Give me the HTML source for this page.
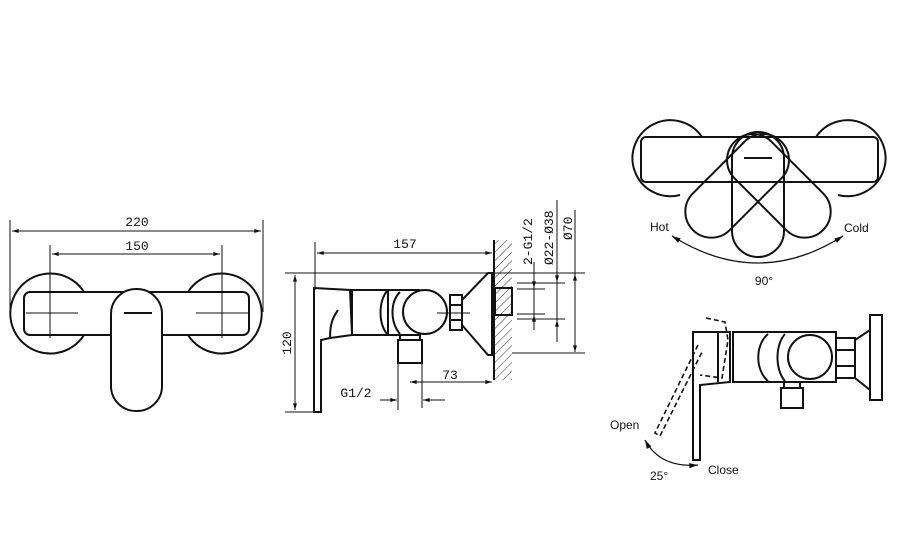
<!DOCTYPE html>
<html><head><meta charset="utf-8"><style>
html,body{margin:0;padding:0;background:#fff}
svg{display:block}
text{font-family:"Liberation Sans",sans-serif;fill:#111}
.m{font-family:"Liberation Mono",monospace;font-size:13px}
</style></head><body>
<svg width="900" height="540" viewBox="0 0 900 540" xmlns="http://www.w3.org/2000/svg">
<defs>
<marker id="a" viewBox="0 0 10 6" refX="10" refY="3" markerWidth="8" markerHeight="4" orient="auto-start-reverse"><path d="M0,0L10,3L0,6z" fill="#111"/></marker>
<pattern id="h" width="6" height="6" patternUnits="userSpaceOnUse" patternTransform="rotate(45)"><line x1="0" y1="0" x2="0" y2="6" stroke="#333" stroke-width="1"/></pattern>
</defs>
<g fill="none" stroke="#111" stroke-width="1">
<line x1="10" y1="220" x2="10" y2="312"/><line x1="263" y1="220" x2="263" y2="312"/>
<line x1="12" y1="231" x2="261" y2="231" marker-start="url(#a)" marker-end="url(#a)"/>
<line x1="50" y1="245" x2="50" y2="338"/><line x1="222" y1="245" x2="222" y2="338"/>
<line x1="52" y1="254" x2="220" y2="254" marker-start="url(#a)" marker-end="url(#a)"/>
<line x1="26" y1="313" x2="78" y2="313"/><line x1="196" y1="313" x2="248" y2="313"/>
</g>
<g fill="none" stroke="#111" stroke-width="2">
<path d="M84,292 A40,40 0 1 0 84,335"/>
<path d="M188,292 A40,40 0 1 1 188,335"/>
<rect x="24" y="292" width="225" height="43" rx="6"/>
<rect x="111" y="289" width="51" height="122" rx="25" fill="#fff"/>
</g>
<line x1="124" y1="313" x2="152" y2="313" stroke="#111" stroke-width="2"/>
<text x="137" y="226" class="m" text-anchor="middle">220</text>
<text x="137" y="250" class="m" text-anchor="middle">150</text>

<rect x="494" y="240" width="18" height="140" fill="url(#h)"/>
<g fill="none" stroke="#111" stroke-width="1">
<line x1="315" y1="242" x2="315" y2="290"/>
<line x1="317" y1="253" x2="492" y2="253" marker-start="url(#a)" marker-end="url(#a)"/>
<line x1="285" y1="273" x2="585" y2="273"/>
<line x1="285" y1="412" x2="318" y2="412"/>
<line x1="295" y1="275" x2="295" y2="410" marker-start="url(#a)" marker-end="url(#a)"/>
<line x1="398" y1="363" x2="398" y2="410"/><line x1="422" y1="363" x2="422" y2="408"/>
<line x1="410" y1="382" x2="492" y2="382" marker-start="url(#a)" marker-end="url(#a)"/>
<line x1="380" y1="400" x2="397" y2="400" marker-end="url(#a)"/>
<line x1="445" y1="400" x2="423" y2="400" marker-end="url(#a)"/>
<line x1="437" y1="313" x2="470" y2="313"/>
<line x1="512" y1="353" x2="585" y2="353"/>
<line x1="517" y1="283" x2="565" y2="283"/><line x1="517" y1="289" x2="545" y2="289"/>
<line x1="517" y1="314" x2="545" y2="314"/><line x1="517" y1="319" x2="565" y2="319"/>
<line x1="534" y1="262" x2="534" y2="330"/>
<line x1="534" y1="272" x2="534" y2="288" marker-end="url(#a)"/>
<line x1="534" y1="330" x2="534" y2="315" marker-end="url(#a)"/>
<line x1="557" y1="200" x2="557" y2="342"/>
<line x1="557" y1="265" x2="557" y2="282" marker-end="url(#a)"/>
<line x1="557" y1="338" x2="557" y2="320" marker-end="url(#a)"/>
<line x1="575" y1="210" x2="575" y2="352"/>
<line x1="575" y1="290" x2="575" y2="274" marker-end="url(#a)"/>
<line x1="575" y1="335" x2="575" y2="352" marker-end="url(#a)"/>
</g>
<g fill="none" stroke="#111" stroke-width="2">
<line x1="494" y1="240" x2="494" y2="380"/>
<path d="M314,288 L350,290 L352,335 L330,338 L321,340 L321,412 L314,412 Z"/>
<path d="M330,338 C330,320 335,315 338,310"/>
<rect x="352" y="290" width="36" height="45"/>
<path d="M388,290 L420,290 M388,335 L420,335"/>
<path d="M388,290 C378,300 378,325 388,335"/>
<path d="M400,292 C390,302 390,322 400,334"/>
<circle cx="425" cy="312" r="22"/>
<rect x="450" y="295" width="12" height="35"/>
<line x1="450" y1="305" x2="462" y2="305"/><line x1="450" y1="320" x2="462" y2="320"/>
<path d="M462,300 L488,273 L492,273 L492,355 L488,355 L462,325"/>
<rect x="495" y="288" width="17" height="27"/>
<rect x="398" y="340" width="24" height="23"/>
<line x1="400" y1="335" x2="400" y2="340"/><line x1="420" y1="334" x2="420" y2="340"/>
</g>
<text x="405" y="248" class="m" text-anchor="middle">157</text>
<text x="450" y="379" class="m" text-anchor="middle">73</text>
<text x="356" y="397" class="m" text-anchor="middle">G1/2</text>
<text class="m" text-anchor="middle" transform="translate(291,343) rotate(-90)">120</text>
<text class="m" transform="translate(532,265) rotate(-90)">2-G1/2</text>
<text class="m" transform="translate(553,265) rotate(-90)">Ø22-Ø38</text>
<text class="m" transform="translate(572,240) rotate(-90)">Ø70</text>

<g fill="none" stroke="#111" stroke-width="2">
<path d="M702,137 A38,38 0 1 0 680,195"/>
<path d="M816,137 A38,38 0 1 1 838,195"/>
<rect x="641" y="137" width="237" height="45" rx="5"/>
<g transform="rotate(45 758 165)"><rect x="732" y="132" width="52" height="125" rx="26"/></g>
<g transform="rotate(-45 758 165)"><rect x="732" y="132" width="52" height="125" rx="26"/></g>
<rect x="732" y="132" width="52" height="125" rx="26"/>
</g>
<line x1="744" y1="158" x2="772" y2="158" stroke="#111" stroke-width="2"/>
<path d="M672,236 Q758,290 843,236" fill="none" stroke="#111" stroke-width="1.3" marker-start="url(#a)" marker-end="url(#a)"/>
<text x="650" y="231" font-size="12">Hot</text>
<text x="844" y="232" font-size="12">Cold</text>
<text x="764" y="285" font-size="12" text-anchor="middle">90°</text>

<g fill="none" stroke="#111" stroke-width="2">
<rect x="870" y="315" width="12" height="85"/>
<path d="M870,330 L855,340 L855,378 L870,390"/>
<rect x="836" y="338" width="19" height="40"/>
<line x1="836" y1="350" x2="855" y2="350"/><line x1="836" y1="366" x2="855" y2="366"/>
<rect x="733" y="332" width="103" height="50"/>
<path d="M768,334 C755,345 755,370 768,381"/>
<path d="M785,334 C775,345 775,370 785,381"/>
<circle cx="810" cy="357" r="22"/>
<rect x="781" y="388" width="22" height="20"/>
<line x1="784" y1="382" x2="784" y2="388"/><line x1="800" y1="382" x2="800" y2="388"/>
<path d="M693,332 L730,332 L730,382 L700,385 L700,460 L693,460 Z"/>
<line x1="718" y1="332" x2="718" y2="382"/>
</g>
<g fill="none" stroke="#111" stroke-width="1.6" stroke-dasharray="5,3">
<path d="M706,318 L725,322 L728,340 L722,378 L700,375"/>
<path d="M698,345 L655,433 L660,436 L703,350"/>
</g>
<path d="M645,440 Q660,468 698,465" fill="none" stroke="#111" stroke-width="1.3" marker-start="url(#a)" marker-end="url(#a)"/>
<text x="610" y="429" font-size="12">Open</text>
<text x="708" y="474" font-size="12">Close</text>
<text x="650" y="480" font-size="12">25°</text>
</svg>
</body></html>
